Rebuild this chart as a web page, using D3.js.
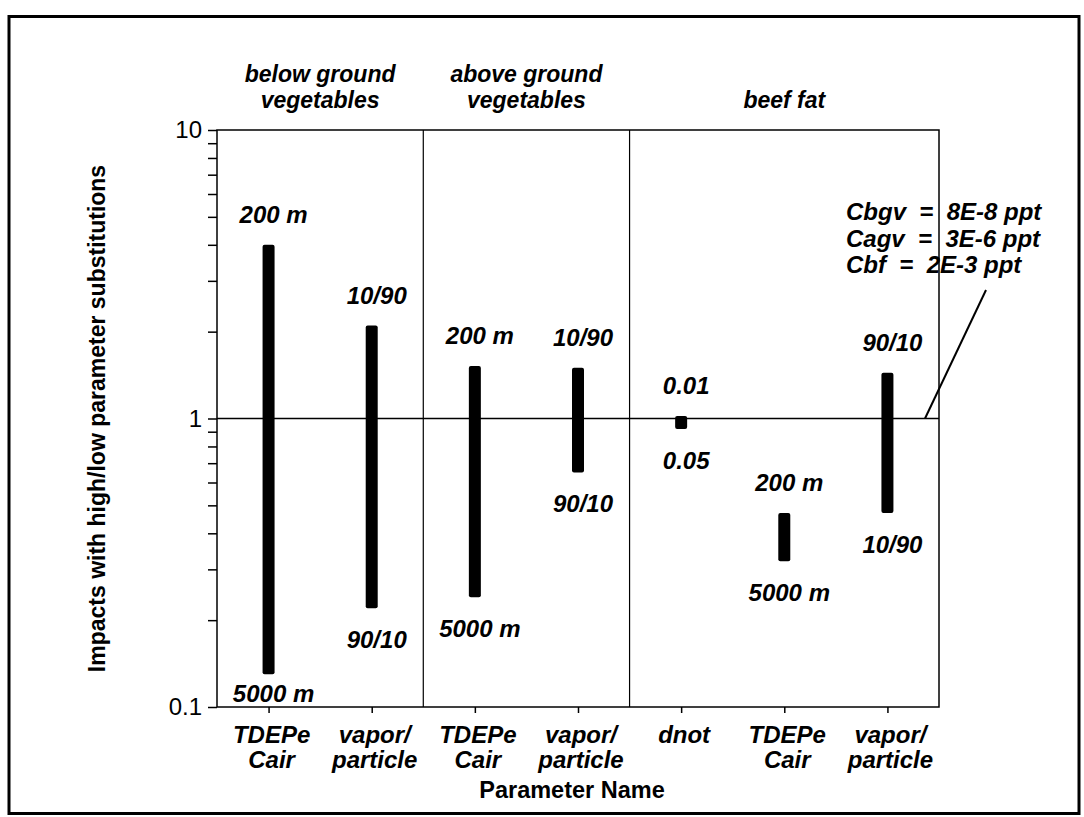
<!DOCTYPE html>
<html>
<head>
<meta charset="utf-8">
<script src="https://cdn.jsdelivr.net/npm/d3@7"></script>
<style>
    body { margin: 0; background: white; }
    text { font-family: "Liberation Sans", Arial, Helvetica, sans-serif; fill: black; }
    .lab { font-weight: bold; font-style: italic; font-size: 24px; }
</style>
</head>
<body>
<div class="main"></div>
<script>
// data
var categories = ["TDEPe Cair", "vapor/ particle", "TDEPe Cair", "vapor/ particle", "dnot", "TDEPe Cair", "vapor/ particle"];
var groupOf = [0, 0, 1, 1, 2, 2, 2];
var groupNames = [["below ground", "vegetables"], ["above ground", "vegetables"], ["beef fat"]];
var highValues = [4.0, 2.1, 1.52, 1.5, 1.02, 0.47, 1.44];
var lowValues = [0.13, 0.22, 0.24, 0.65, 0.92, 0.32, 0.47];
var highLabels = ["200 m", "10/90", "200 m", "10/90", "0.01", "200 m", "90/10"];
var lowLabels = ["5000 m", "90/10", "5000 m", "90/10", "0.05", "5000 m", "10/90"];
var baseNames = ["Cbgv", "Cagv", "Cbf"];
var baseValues = ["8E-8 ppt", "3E-6 ppt", "2E-3 ppt"];
var yMajor = [0.1, 1, 10];
var yTickLabels = ["0.1", "1", "10"];

var width = 1084;
var height = 817;

var svg = d3.select("div.main")
    .append("svg")
    .attr("width", width)
    .attr("height", height)

// plot box (note: "top" is taken by window.top, so p* names)
var pLeft = 217, pRight = 939, pTop = 130, pBottom = 707;

var x = d3.scalePoint().domain(d3.range(categories.length)).range([pLeft, pRight]).padding(0.5)
var y = d3.scaleLog().domain([0.1, 10]).range([pBottom, pTop])

// outer border
svg.append("rect")
    .attr("x", 9).attr("y", 16.5)
    .attr("width", 1070).attr("height", 797)
    .attr("fill", "none")
    .attr("stroke", "black")
    .attr("stroke-width", 3)

// all log ticks, labels only on decades
var yTicks = [];
[0.1, 1].forEach(function (d) { for (var k = 1; k < 10; k++) yTicks.push(d * k) })
yTicks.push(10)

var yAxis = svg.append("g")
    .attr("transform", "translate(" + pLeft + ",0)")
    .call(d3.axisLeft(y)
        .tickValues(yTicks)
        .tickSize(9)
        .tickSizeOuter(0)
        .tickPadding(6)
        .tickFormat(function (d) {
            var i = yMajor.findIndex(function (m) { return Math.abs(m - d) < 1e-9 });
            return i >= 0 ? yTickLabels[i] : "";
        }))
yAxis.selectAll("text").style("font-size", "24px").style("font-family", "'Liberation Sans', Arial, sans-serif")
yAxis.selectAll("line").attr("stroke-width", 1.5)
yAxis.select(".domain").remove()

var xAxis = svg.append("g")
    .attr("transform", "translate(0," + pBottom + ")")
    .call(d3.axisBottom(x).tickSize(6).tickSizeOuter(0).tickFormat(""))
xAxis.select(".domain").remove()
xAxis.selectAll("line").attr("stroke-width", 1.5)

// plot frame
svg.append("rect")
    .attr("x", pLeft).attr("y", pTop)
    .attr("width", pRight - pLeft).attr("height", pBottom - pTop)
    .attr("fill", "none")
    .attr("stroke", "black")
    .attr("stroke-width", 1.5)

// group dividers
var dividers = d3.range(1, categories.length).filter(function (i) { return groupOf[i] != groupOf[i - 1] })
svg.selectAll("line.div").data(dividers).enter().append("line")
    .attr("class", "div")
    .attr("x1", function (i) { return (x(i) + x(i - 1)) / 2 })
    .attr("x2", function (i) { return (x(i) + x(i - 1)) / 2 })
    .attr("y1", pTop).attr("y2", pBottom)
    .attr("stroke", "black")
    .attr("stroke-width", 1.2)

// reference line at 1
svg.append("line")
    .attr("x1", pLeft).attr("x2", pRight)
    .attr("y1", y(1)).attr("y2", y(1))
    .attr("stroke", "black")
    .attr("stroke-width", 1.5)

// bars
var barW = 12;
svg.selectAll("rect.bar").data(categories).enter().append("rect")
    .attr("class", "bar")
    .attr("x", function (d, i) { return x(i) - barW / 2 })
    .attr("y", function (d, i) { return y(highValues[i]) })
    .attr("width", barW)
    .attr("height", function (d, i) { return y(lowValues[i]) - y(highValues[i]) })
    .attr("rx", 2)
    .attr("fill", "black")

svg.selectAll("text.hi").data(highLabels).enter().append("text")
    .attr("class", "lab hi")
    .attr("x", function (d, i) { return x(i) + 5 })
    .attr("y", function (d, i) { return y(highValues[i]) - 22 })
    .attr("text-anchor", "middle")
    .text(function (d) { return d })

svg.selectAll("text.lo").data(lowLabels).enter().append("text")
    .attr("class", "lab lo")
    .attr("x", function (d, i) { return x(i) + 5 })
    .attr("y", function (d, i) { return Math.min(y(lowValues[i]) + 40, pBottom - 5) })
    .attr("text-anchor", "middle")
    .text(function (d) { return d })

// category labels
var cat = svg.selectAll("text.cat").data(categories).enter().append("text")
    .attr("class", "lab cat")
    .attr("text-anchor", "middle")
cat.selectAll("tspan").data(function (d, i) { return d.split(" ").map(function (s) { return [s, i] }) })
    .enter().append("tspan")
    .attr("x", function (d) { return x(d[1]) + 3 })
    .attr("y", function (d, j) { return pBottom + 36 + j * 25 })
    .text(function (d) { return d[0] })

// group headers
groupNames.forEach(function (g, gi) {
    var idx = d3.range(categories.length).filter(function (i) { return groupOf[i] == gi });
    var x0 = idx[0] == 0 ? pLeft : (x(idx[0]) + x(idx[0] - 1)) / 2;
    var last = idx[idx.length - 1];
    var x1 = last == categories.length - 1 ? pRight : (x(last) + x(last + 1)) / 2;
    var t = svg.append("text")
        .attr("class", "lab")
        .style("font-size", "23px")
        .attr("text-anchor", "middle")
    g.forEach(function (line, j) {
        t.append("tspan")
            .attr("x", (x0 + x1) / 2)
            .attr("y", pTop - 22 - (g.length - 1 - j) * 26)
            .text(line)
    })
})

// base concentrations note
var note = svg.append("text")
    .attr("class", "lab")
    .attr("xml:space", "preserve")
    .style("white-space", "pre")
baseNames.forEach(function (n, i) {
    note.append("tspan")
        .attr("x", pRight - 93)
        .attr("y", y(10) + 90 + i * 26.5)
        .text(n + "  =  " + baseValues[i])
})
svg.append("line")
    .attr("x1", pRight + 47).attr("y1", y(10) + 160)
    .attr("x2", pRight - 14).attr("y2", y(1))
    .attr("stroke", "black")
    .attr("stroke-width", 2)

// axis titles
svg.append("text")
    .attr("transform", "translate(105," + (pTop + pBottom) / 2 + ") rotate(-90)")
    .attr("text-anchor", "middle")
    .style("font-size", "23px")
    .style("font-weight", "bold")
    .text("Impacts with high/low parameter substitutions")

svg.append("text")
    .attr("x", (pLeft + pRight) / 2 - 6)
    .attr("y", 798)
    .attr("text-anchor", "middle")
    .style("font-size", "23.5px")
    .style("font-weight", "bold")
    .text("Parameter Name")
</script>
</body>
</html>
